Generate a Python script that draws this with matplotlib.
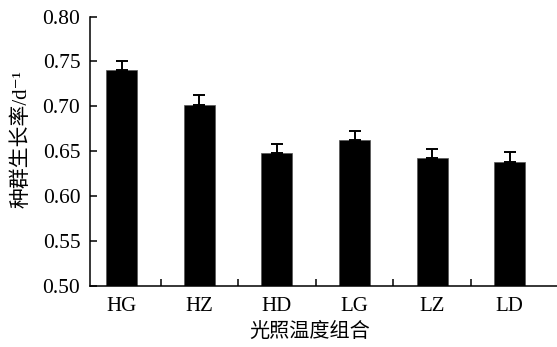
import matplotlib
matplotlib.use("Agg")
import matplotlib.pyplot as plt
import numpy as np

# Population growth rate under light/temperature combinations
groups = ["HG", "HZ", "HD", "LG", "LZ", "LD"]
growth_rate = [0.740, 0.702, 0.648, 0.662, 0.642, 0.638]
std_err = [0.010, 0.011, 0.010, 0.010, 0.010, 0.011]
y_ticks = [0.50, 0.55, 0.60, 0.65, 0.70, 0.75, 0.80]

serif_cjk = ["Liberation Serif", "Noto Sans CJK SC", "DejaVu Serif"]
plt.rcParams["font.family"] = serif_cjk

fig = plt.figure(figsize=(5.57, 3.47), dpi=100)
ax = fig.add_axes([0.1616, 0.1758, 0.844, 0.7766])

x = np.arange(len(groups))
ax.bar(x, growth_rate, width=0.4, color="black", edgecolor="#555555", linewidth=0.5, zorder=2)
ax.errorbar(x, growth_rate, yerr=[np.zeros(len(std_err)), std_err], fmt="none",
            ecolor="black", elinewidth=1.4, capsize=4.5, capthick=1.4, zorder=3)

ax.set_xlim(-0.41, 5.65)
ax.set_ylim(0.50, 0.80)
ax.set_yticks(y_ticks)
ax.set_yticklabels([f"{v:.2f}" for v in y_ticks])
ax.set_xticks(x)
ax.set_xticklabels(groups)
ax.set_xticks(x[:-1] + 0.5, minor=True)

ax.tick_params(axis="y", direction="in", length=5, width=1.1, pad=7, labelsize=15.5)
ax.tick_params(axis="x", which="major", length=0, pad=8, labelsize=15)
ax.tick_params(axis="x", which="minor", direction="in", length=5, width=1.1)

for side in ("top", "right"):
    ax.spines[side].set_visible(False)
for side in ("left", "bottom"):
    ax.spines[side].set_linewidth(1.1)

ax.set_ylabel("种群生长率/d⁻¹", fontsize=15)
ax.yaxis.set_label_coords(-0.125, 0.545)
fig.text(310 / 557, 1 - 332 / 347, "光照温度组合", fontsize=14.5, ha="center", va="center")

fig.savefig("out.png", dpi=100)
